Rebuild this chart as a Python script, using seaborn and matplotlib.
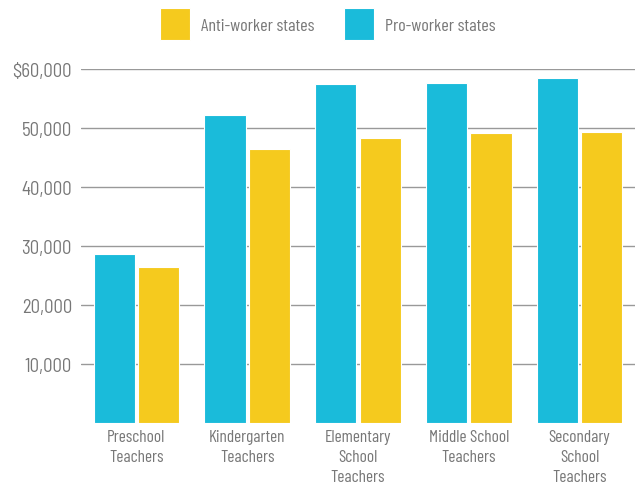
import matplotlib
matplotlib.use("Agg")
import matplotlib.pyplot as plt
import seaborn as sns
import pandas as pd

categories = ["Preschool\nTeachers", "Kindergarten\nTeachers", "Elementary\nSchool\nTeachers",
              "Middle School\nTeachers", "Secondary\nSchool\nTeachers"]
pro_worker = [28700, 52200, 57500, 57700, 58400]
anti_worker = [26400, 46400, 48300, 49200, 49400]
yticks = [10000, 20000, 30000, 40000, 50000, 60000]
ytick_labels = ["10,000", "20,000", "30,000", "40,000", "50,000", "$60,000"]

df = pd.DataFrame({
    "category": categories * 2,
    "value": pro_worker + anti_worker,
    "group": ["Pro-worker states"] * 5 + ["Anti-worker states"] * 5,
})

sns.set_theme(style="white")
plt.rcParams["font.family"] = ["Barlow Condensed", "DejaVu Sans"]
plt.rcParams["font.weight"] = "normal"

BLUE = "#1ABBDA"
YELLOW = "#F5CA1E"
GRAY = "#777777"

fig = plt.figure(figsize=(6.35, 4.85), dpi=100)
ax = fig.add_axes([81 / 635, 61 / 485, 554 / 635, 354 / 485])

sns.barplot(data=df, x="category", y="value", hue="group",
            hue_order=["Pro-worker states", "Anti-worker states"],
            palette=[BLUE, YELLOW], width=0.8, gap=0.07,
            edgecolor="white", linewidth=0.8, saturation=1, ax=ax, legend=True)

ax.set_ylim(0, 60000)
ax.set_xlim(-0.5, 4.5)
ax.set_yticks(yticks)
ax.set_yticklabels(ytick_labels, family=["Barlow Semi Condensed", "DejaVu Sans"])
ax.yaxis.grid(True, color="#999999", linewidth=1.0)
ax.set_axisbelow(True)
for s in ax.spines.values():
    s.set_visible(False)
ax.tick_params(axis="y", length=0, pad=6.5, labelsize=13.5, labelcolor=GRAY)
ax.tick_params(axis="x", length=0, pad=4, labelsize=12.5, labelcolor=GRAY)
for lbl in ax.get_xticklabels():
    lbl.set_linespacing(1.45)
ax.set_xlabel("")
ax.set_ylabel("")

handles, labels = ax.get_legend_handles_labels()
ax.get_legend().remove()
leg = fig.legend(handles[::-1], labels[::-1], loc="center",
                 bbox_to_anchor=(328 / 635, 1 - 25 / 485), ncol=2, frameon=False,
                 fontsize=13, handlelength=1.66, handleheight=2.4,
                 handletextpad=0.6, columnspacing=1.66, borderaxespad=0,
                 borderpad=0)
for t in leg.get_texts():
    t.set_color(GRAY)

fig.savefig("out.png", dpi=100)
